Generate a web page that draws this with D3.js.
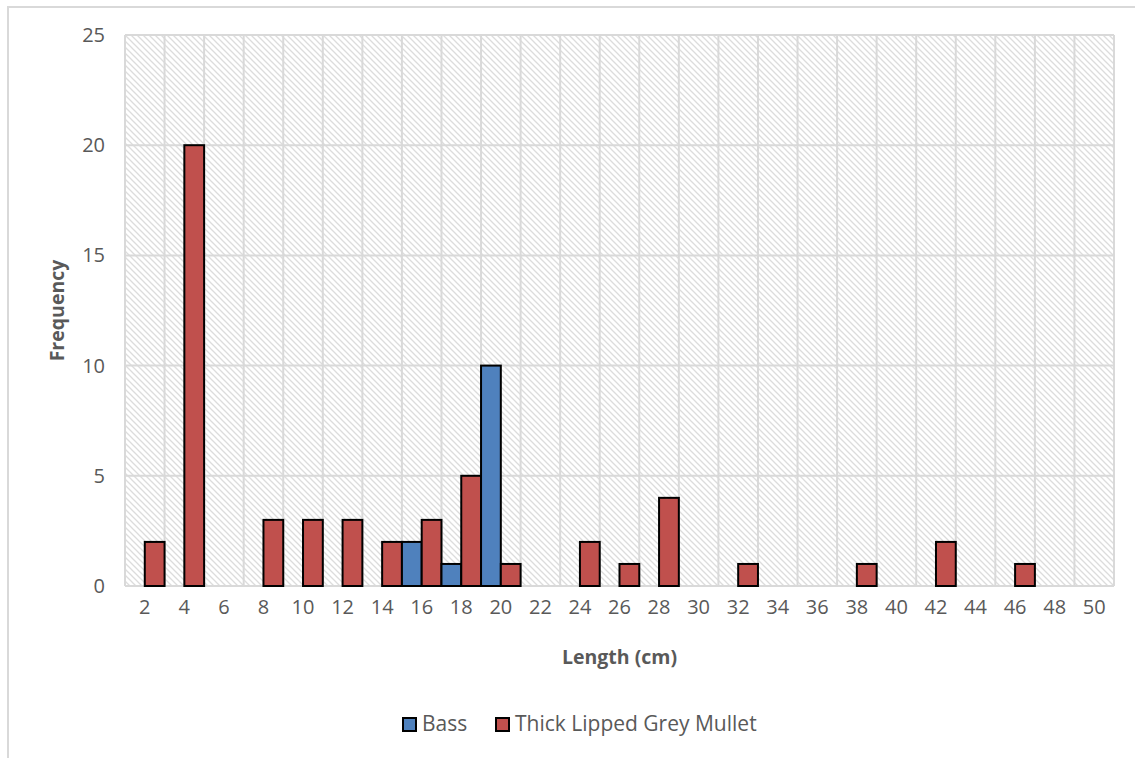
<!DOCTYPE html>
<html>
<head>
<meta charset="utf-8">
<script src="https://d3js.org/d3.v7.min.js"></script>
<style>
  html, body { margin: 0; padding: 0; background: #fff; }
  svg { display: block; }
  text { font-family: "Open Sans", "Liberation Sans", sans-serif; }
</style>
</head>
<body>
<svg id="chart" width="1135" height="758"></svg>
<script>
const categories = ["2","4","6","8","10","12","14","16","18","20","22","24","26","28","30","32","34","36","38","40","42","44","46","48","50"];
const seriesNames = ["Bass", "Thick Lipped Grey Mullet"];
const bassValues   = [0,0,0,0,0,0,0,2,1,10,0,0,0,0,0,0,0,0,0,0,0,0,0,0,0];
const mulletValues = [2,20,0,3,3,3,2,3,5,1,0,2,1,4,0,1,0,0,1,0,2,0,1,0,0];
const yTicks = [0,5,10,15,20,25];
const seriesColors = ["#4f81bd", "#c0504d"];

const svg = d3.select("#chart");
const W = 1135, H = 758;
const m = { left: 125, right: W - 1114, top: 35, bottom: H - 586 };

// outer chart border
svg.append("rect").attr("x", 8).attr("y", 7).attr("width", 1140).attr("height", 760)
  .attr("fill", "#fff").attr("stroke", "#d9d9d9").attr("stroke-width", 2);

// hatch pattern
const defs = svg.append("defs");
const pat = defs.append("pattern").attr("id", "hatch").attr("patternUnits", "userSpaceOnUse")
  .attr("width", 6).attr("height", 6);
pat.append("rect").attr("width", 6).attr("height", 6).attr("fill", "#fff");
pat.append("path").attr("d", "M-1,-1 L7,7 M-4,2 L2,8 M2,-4 L8,2")
  .attr("stroke", "#dcdcdc").attr("stroke-width", 1.3);

const x = d3.scaleBand().domain(categories).range([m.left, W - m.right]).padding(0);
const xs = d3.scaleBand().domain(seriesNames).range([0, x.bandwidth()]).padding(0);
const y = d3.scaleLinear().domain([0, 25]).range([H - m.bottom, m.top]);

// plot background
svg.append("rect").attr("x", m.left).attr("y", m.top)
  .attr("width", W - m.left - m.right).attr("height", H - m.top - m.bottom)
  .attr("fill", "url(#hatch)");

// gridlines
const grid = svg.append("g").attr("stroke", "#d9d9d9").attr("stroke-width", 2);
yTicks.forEach(t => {
  grid.append("line").attr("x1", m.left).attr("x2", W - m.right).attr("y1", y(t)).attr("y2", y(t));
});
const bounds = categories.map(c => x(c)).concat([x(categories[categories.length - 1]) + x.bandwidth()]);
bounds.forEach(b => {
  grid.append("line").attr("x1", b).attr("x2", b).attr("y1", m.top).attr("y2", H - m.bottom);
});

// bars
const data = [];
categories.forEach((c, i) => {
  data.push({ cat: c, s: seriesNames[0], v: bassValues[i], color: seriesColors[0] });
  data.push({ cat: c, s: seriesNames[1], v: mulletValues[i], color: seriesColors[1] });
});
svg.append("g").selectAll("rect").data(data.filter(d => d.v > 0)).join("rect")
  .attr("x", d => x(d.cat) + xs(d.s))
  .attr("y", d => y(d.v))
  .attr("width", xs.bandwidth())
  .attr("height", d => y(0) - y(d.v))
  .attr("fill", d => d.color)
  .attr("stroke", "#000").attr("stroke-width", 2);

// axes
const xAxis = svg.append("g").attr("transform", `translate(0,${H - m.bottom})`)
  .call(d3.axisBottom(x).tickSize(0).tickPadding(14));
xAxis.select(".domain").remove();
xAxis.selectAll("text").attr("font-size", 20).attr("fill", "#595959")
  .style("font-family", '"Open Sans", sans-serif');

const yAxis = svg.append("g").attr("transform", `translate(${m.left},0)`)
  .call(d3.axisLeft(y).tickValues(yTicks).tickSize(0).tickPadding(20));
yAxis.select(".domain").remove();
yAxis.selectAll("text").attr("font-size", 20).attr("fill", "#595959")
  .style("font-family", '"Open Sans", sans-serif');

// axis titles
svg.append("text").attr("x", (m.left + W - m.right) / 2).attr("y", 664)
  .attr("text-anchor", "middle").attr("font-size", 19.5).attr("font-weight", "bold")
  .attr("fill", "#595959").text("Length (cm)");
svg.append("text").attr("transform", `translate(64,${(m.top + H - m.bottom) / 2}) rotate(-90)`)
  .attr("text-anchor", "middle").attr("font-size", 19.5).attr("font-weight", "bold")
  .attr("fill", "#595959").text("Frequency");

// legend
const legendItems = [
  { name: seriesNames[0], color: seriesColors[0], x: 402 },
  { name: seriesNames[1], color: seriesColors[1], x: 495 }
];
const lg = svg.append("g");
legendItems.forEach(it => {
  lg.append("rect").attr("x", it.x + 1).attr("y", 718).attr("width", 13).attr("height", 13)
    .attr("fill", it.color).attr("stroke", "#000").attr("stroke-width", 2);
  lg.append("text").attr("x", it.x + 20).attr("y", 731).attr("font-size", 21)
    .attr("fill", "#595959").text(it.name);
});
</script>
</body>
</html>
